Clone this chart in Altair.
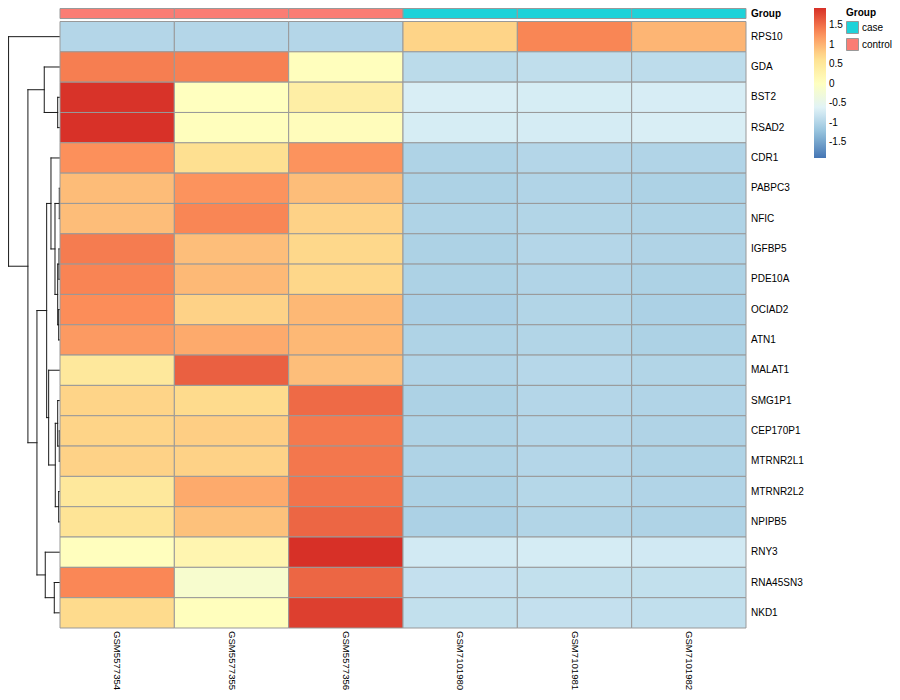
import altair as alt
import pandas as pd

# ---------------- data ----------------
genes = ["RPS10", "GDA", "BST2", "RSAD2", "CDR1", "PABPC3", "NFIC", "IGFBP5",
         "PDE10A", "OCIAD2", "ATN1", "MALAT1", "SMG1P1", "CEP170P1", "MTRNR2L1",
         "MTRNR2L2", "NPIPB5", "RNY3", "RNA45SN3", "NKD1"]
samples = ["GSM5577354", "GSM5577355", "GSM5577356",
           "GSM7101980", "GSM7101981", "GSM7101982"]
groups = ["control", "control", "control", "case", "case", "case"]
annotation_name = ["Group"]

GSM5577354 = [-0.98, 1.40, 1.92, 1.93, 1.28, 0.94, 0.93, 1.42, 1.36, 1.30,
              1.20, 0.50, 0.75, 0.75, 0.77, 0.50, 0.58, 0.04, 1.34, 0.70]
GSM5577355 = [-0.98, 1.38, 0.02, 0.05, 0.65, 1.25, 1.35, 0.92, 0.96, 0.77,
              1.08, 1.61, 0.70, 0.80, 0.77, 1.08, 0.90, 0.22, -0.15, 0.05]
GSM5577356 = [-0.98, 0.05, 0.37, 0.08, 1.25, 0.93, 0.77, 0.72, 0.73, 0.97,
              0.97, 0.92, 1.54, 1.44, 1.45, 1.48, 1.57, 1.94, 1.57, 1.84]
GSM7101980 = [0.75, -0.92, -0.68, -0.70, -1.02, -1.03, -1.02, -1.03, -1.03, -1.05,
              -1.02, -1.00, -1.03, -1.02, -1.02, -1.03, -1.04, -0.73, -0.85, -0.86]
GSM7101981 = [1.35, -0.88, -0.70, -0.71, -0.98, -1.00, -0.99, -0.98, -1.00, -0.99,
              -0.99, -0.96, -0.98, -0.98, -0.98, -0.97, -0.99, -0.71, -0.86, -0.85]
GSM7101982 = [0.99, -0.90, -0.69, -0.68, -1.00, -1.03, -1.02, -1.01, -1.03, -1.04,
              -1.03, -0.99, -1.00, -1.01, -1.02, -1.00, -1.02, -0.74, -0.86, -0.87]
columns = [GSM5577354, GSM5577355, GSM5577356, GSM7101980, GSM7101981, GSM7101982]

# row dendrogram (hclust-like merges, in order of increasing height)
merge_a = ["PABPC3", "CEP170P1", "IGFBP5", "OCIAD2", "MTRNR2L2", "BST2", "n3",
           "SMG1P1", "n8", "n1", "RNA45SN3", "CDR1", "MALAT1", "n12", "RNY3",
           "GDA", "n14", "n16", "RPS10"]
merge_b = ["NFIC", "MTRNR2L1", "PDE10A", "ATN1", "NPIPB5", "RSAD2", "n4",
           "n2", "n5", "n7", "NKD1", "n10", "n9", "n13", "n11", "n6", "n15",
           "n17", "n18"]
merge_h = [0.7, 0.7, 1.0, 1.3, 1.3, 2.3, 2.3, 2.3, 4.7, 5.0, 5.7, 9.0, 11.3,
           13.3, 14.7, 15.7, 23.0, 32.0, 51.3]

heat_stops = [-1.9, -1.26, -0.62, 0.02, 0.66, 1.30, 1.94]
heat_colors = ["#4575B4", "#91BFDB", "#E0F3F8", "#FFFFBF", "#FEE090", "#FC8D59", "#D73027"]
legend_values = [-1.5, -1, -0.5, 0, 0.5, 1, 1.5]
group_levels = ["case", "control"]
group_colors = ["#1ED2D9", "#FA7D74"]

# ---------------- tables ----------------
rows = []
for s, col in zip(samples, columns):
    for g, v in zip(genes, col):
        rows.append({"sample": s, "gene": g, "value": v})
heat_df = pd.DataFrame(rows)
ann_df = pd.DataFrame({"sample": samples, "group": groups})
ann_name_df = pd.DataFrame({"name": annotation_name})
gene_df = pd.DataFrame({"gene": genes})
sample_df = pd.DataFrame({"sample": samples})

pos = {g: i + 0.5 for i, g in enumerate(genes)}
hgt = {g: 0.0 for g in genes}
segs = []
for k, (a, b, h) in enumerate(zip(merge_a, merge_b, merge_h), start=1):
    pa, pb = pos[a], pos[b]
    segs.append({"x": hgt[a], "x2": h, "y": pa, "y2": pa})
    segs.append({"x": h, "x2": h, "y": pa, "y2": pb})
    segs.append({"x": hgt[b], "x2": h, "y": pb, "y2": pb})
    name = f"n{k}"
    pos[name] = (pa + pb) / 2
    hgt[name] = h
seg_df = pd.DataFrame(segs)

# ---------------- layout (pixels inside the chart) ----------------
X0, X1 = 52, 738
Y0, Y1 = 13.5, 620

xband = alt.X("sample:N", axis=None,
              scale=alt.Scale(domain=samples, range=[X0, X1], paddingInner=0,
                              paddingOuter=0, round=False))
yband = alt.Y("gene:N", axis=None,
              scale=alt.Scale(domain=genes, range=[Y0, Y1], paddingInner=0,
                              paddingOuter=0, round=False))

heat = alt.Chart(heat_df).mark_rect(stroke="#999999", strokeWidth=1).encode(
    x=xband, y=yband,
    fill=alt.Fill("value:Q",
                  scale=alt.Scale(domain=heat_stops, range=heat_colors, interpolate="rgb"),
                  legend=alt.Legend(orient="none", legendX=806, legendY=0,
                                    direction="vertical", title=None,
                                    gradientLength=150, gradientThickness=12,
                                    gradientStrokeWidth=0,
                                    values=legend_values, labelExpr="datum.value + ''",
                                    labelFontSize=10, labelOffset=3, labelColor="black",
                                    labelOverlap=False)),
)

ann = alt.Chart(ann_df).mark_rect(stroke="#999999", strokeWidth=1).encode(
    x=xband, y=alt.value(0.5), y2=alt.value(10.5),
    fill=alt.Fill("group:N",
                  scale=alt.Scale(domain=group_levels, range=group_colors),
                  legend=alt.Legend(orient="none", legendX=838, legendY=0,
                                    title="Group", titleFontSize=10, titleFontWeight="bold",
                                    titleColor="black", titlePadding=3,
                                    labelFontSize=10, labelColor="black", labelOffset=3,
                                    symbolType="square", symbolSize=144,
                                    symbolStrokeColor="#999999", symbolStrokeWidth=1,
                                    symbolOpacity=1, rowPadding=0)),
)

ann_label = alt.Chart(ann_name_df).mark_text(
    align="left", baseline="middle", fontSize=10, fontWeight="bold", color="black"
).encode(x=alt.value(743), y=alt.value(5.5), text="name:N")

row_labels = alt.Chart(gene_df).mark_text(
    align="left", baseline="middle", fontSize=10, color="black"
).encode(y=yband, x=alt.value(743), text="gene:N")

col_labels = alt.Chart(sample_df).mark_text(
    align="left", baseline="middle", fontSize=9.6, angle=90, color="black"
).encode(x=xband, y=alt.value(623), text="sample:N")

dendro = alt.Chart(seg_df).mark_rule(color="#1a1a1a", strokeWidth=1, strokeCap="square").encode(
    x=alt.X("x:Q", axis=None,
            scale=alt.Scale(domain=[0, max(merge_h) * 1.05], range=[X0, X0 - 54], zero=False, nice=False)),
    x2="x2:Q",
    y=alt.Y("y:Q", axis=None,
            scale=alt.Scale(domain=[0, len(genes)], range=[Y0, Y1], zero=False, nice=False)),
    y2="y2:Q",
)

chart = alt.layer(dendro, heat, ann, ann_label, row_labels, col_labels).resolve_scale(
    x="independent", y="independent", fill="independent"
).properties(
    width=884, height=684, padding=0,
    autosize=alt.AutoSizeParams(type="none"),
).configure(font="Liberation Sans").configure_view(strokeWidth=0)

chart.save("out.html", embed_options={"renderer": "svg", "actions": False})
